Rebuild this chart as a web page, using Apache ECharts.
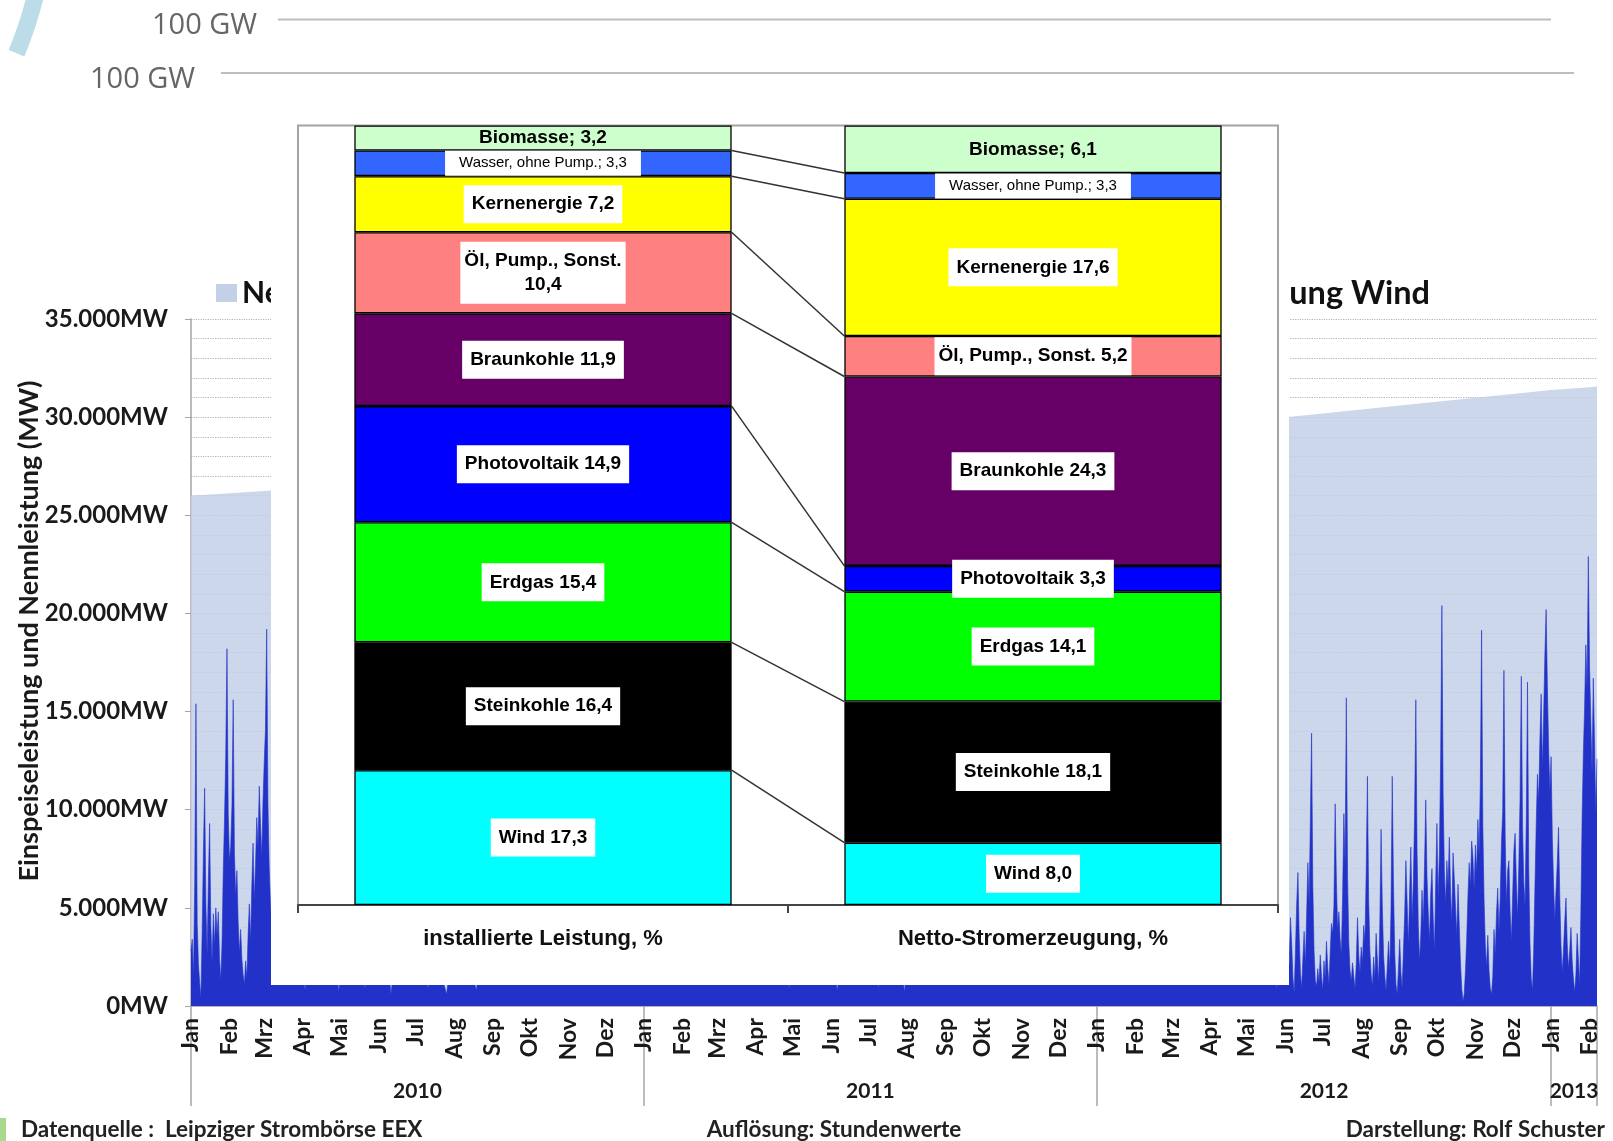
<!DOCTYPE html>
<html>
<head>
<meta charset="utf-8">
<script src="https://cdn.jsdelivr.net/npm/echarts@6/dist/echarts.min.js"></script>
<style>
html, body { margin: 0; padding: 0; background: #ffffff; }
#chart { width: 1613px; height: 1141px; }
</style>
</head>
<body>
<div id="chart"></div>
<script>
// ---- Wind feed-in vs. rated capacity, 2010 - Feb 2013 (day 0 = 1 Jan 2010) ----
const monthLabels = ['Jan', 'Feb', 'Mrz', 'Apr', 'Mai', 'Jun', 'Jul', 'Aug', 'Sep', 'Okt', 'Nov', 'Dez'];
const yearLabels = ['2010', '2011', '2012', '2013'];
const lastDay = 1133;

// rated wind capacity (MW) at the start of each month, Jan 2010 .. Feb 2013
const nennleistungMonthly = [
  26000, 26120, 26240, 26360, 26480, 26600, 26720, 26840, 26960, 27080, 27200, 27340,
  27470, 27580, 27700, 27810, 27920, 28040, 28150, 28270, 28390, 28510, 28640, 28770,
  28900, 29110, 29330, 29550, 29770, 29990, 30190, 30390, 30590, 30790, 30990, 31180,
  31380, 31520
];
const nennleistungEnd = 31560;

// wind feed-in (MW), daily, days 0..64
const windJanMar2010 = [
  2800, 3400, 1500, 6200, 15400, 4200, 2100, 1200, 450, 3800, 7900, 11100, 5200, 2600, 6400, 9300,
  4100, 2200, 4700, 3100, 5000, 3600, 4800, 2400, 1300, 3200, 6900, 9500, 12800, 18200, 9800, 7400,
  8100, 10200, 15600, 7800, 5600, 6900, 4300, 2700, 3900, 2400, 1600, 1100, 2300, 1400, 3600, 5200,
  3300, 6100, 8300, 5400, 7200, 9600, 8100, 11200, 9300, 7600, 10400, 12400, 14100, 19200, 10300, 7100,
  5300
];

// wind feed-in (MW), every third day, days 65..884
const windMar2010May2012 = [
  4200, 2600, 7800, 5100, 1800, 3300, 9200, 6400, 2100, 800, 3900, 5600, 2400, 6800, 10300, 4700, 1900, 3100, 700, 2800,
  4500, 1600, 2300, 5900, 3200, 900, 1700, 4100, 6300, 2500, 1200, 3400, 600, 2100, 4800, 7200, 3000, 1400, 2600, 1100,
  3700, 1800, 900, 2200, 5300, 2900, 1300, 600, 2400, 4100, 1700, 3300, 7400, 3800, 1500, 800, 2700, 5100, 2000, 1200,
  3500, 6200, 2600, 1100, 4400, 8700, 5300, 2000, 3900, 10600, 6800, 2900, 1300, 4600, 7900, 12100, 5400, 2300, 3800, 9400,
  13200, 6100, 2700, 5800, 11400, 16300, 8200, 3600, 7000, 4300, 1900, 6600, 9800, 4100, 2500, 5200, 14700, 7600, 3300, 8900,
  12600, 5700, 15800, 9100, 4200, 7300, 17400, 10200, 3800, 6500, 2900, 5100, 9600, 13800, 6200, 2400, 4700, 8300, 3600, 1500,
  5900, 11200, 6800, 2700, 4400, 9900, 3700, 1600, 6100, 8400, 3300, 1200, 4600, 7300, 2500, 5400, 10800, 4900, 2100, 900,
  3200, 5600, 2200, 1000, 4300, 7700, 3100, 1400, 2600, 6200, 3900, 1700, 800, 3500, 5800, 2300, 4700, 8100, 3600, 1500,
  2700, 5200, 1900, 900, 3800, 6900, 2800, 1300, 4100, 2200, 700, 3300, 5600, 2400, 6700, 3000, 1200, 2600, 4900, 2100,
  5500, 9300, 4200, 1800, 3700, 8500, 12300, 5900, 2600, 4800, 1400, 3900, 7600, 10900, 4400, 2200, 6300, 3100, 1300, 5700,
  2400, 1100, 3600, 2000, 4800, 9700, 6100, 13500, 8900, 15200, 10400, 6800, 18100, 12700, 7500, 16900, 9300, 5200, 11600, 14300,
  8400, 17600, 10900, 6300, 12200, 5500, 9800, 14600, 7100, 3900, 2200, 4600, 1300, 2900, 6700, 11300, 5800, 3400, 8600, 4100,
  2300, 6900, 10400, 4800, 2100, 7600, 3500, 1200, 5300, 9100, 4500, 2600, 6400, 12800, 5700, 3100, 8200, 4000, 1700, 3300,
  6000, 2800, 1100, 4600, 7300, 2900, 1500, 3800, 5400, 2000, 900, 2700, 4300, 1600
];

// wind feed-in (MW), daily, days 885..1133
const windJun2012Feb2013 = [
  2200, 4500, 3100, 1400, 660, 2800, 5200, 6800, 3600, 1700, 900, 2400, 3800, 2100, 4600, 7300,
  5200, 9400, 13900, 6100, 2800, 1300, 1000, 1900, 1200, 2600, 1500, 800, 2300, 1400, 3300, 2000,
  1100, 2700, 4200, 3700, 5100, 10300, 6400, 3900, 4800, 3400, 2600, 5600, 9800, 7200, 15700, 6600,
  3200, 1800, 1300, 2200, 1500, 900, 2100, 4500, 2600, 1700, 3000, 2200, 4100, 3300, 6800, 11700,
  5400, 2800, 1600, 1000, 2500, 1400, 3700, 2400, 1200, 4200, 9000, 5100, 2600, 1500, 800, 2000,
  3300, 1800, 4900, 11700, 6200, 2700, 1100, 600, 1900, 3400, 1700, 900, 2800, 4600, 7400, 5300,
  3100, 5800, 8100, 4400, 6300, 9700, 15600, 7900, 4100, 2300, 3600, 5900, 4200, 7100, 10500, 6600,
  4800, 3300, 5700, 7000, 4500, 2800, 6200, 9300, 5500, 7800, 12600, 20400, 10800, 6900, 5200, 7400,
  6100, 8600, 5800, 4300, 7800, 6500, 5000, 3600, 6200, 4100, 2200, 900, 250, 600, 1800, 3400,
  5600, 7300, 6100, 8400, 7600, 5900, 8200, 6800, 9500, 7700, 11400, 19150, 9200, 5400, 3100, 2000,
  3600, 1800, 900, 600, 1500, 3900, 2600, 4700, 6000, 3800, 5500, 8300, 9900, 17100, 8700, 5200,
  6900, 7400, 4800, 3300, 5600, 7900, 8800, 6400, 4500, 7200, 10600, 16800, 9100, 6300, 5100, 9400,
  16500, 7000, 3200, 1400, 800, 2900, 6100, 9200, 11800, 10400, 13600, 15900, 12100, 14800, 17900, 20200,
  16400, 13200, 10900, 12700, 8600, 6200, 4400, 5900, 7300, 9100, 5600, 3100, 1700, 2900, 4300, 5500,
  3200, 1900, 2800, 4000, 2300, 1400, 700, 1600, 3700, 2400, 1100, 4800, 9600, 12900, 15200, 18400,
  16100, 22900, 17300, 14600, 11800, 16700, 13400, 9800, 12600
];

// ---- Shares of installed capacity and net generation 2011 (%) ----
const barCategories = ['installierte Leistung, %', 'Netto-Stromerzeugung, %'];
const sources = ['Wind', 'Steinkohle', 'Erdgas', 'Photovoltaik', 'Braunkohle',
  'Öl, Pump., Sonst.', 'Kernenergie', 'Wasser, ohne Pump.', 'Biomasse'];
const sourceColors = ['#00ffff', '#000000', '#00ff00', '#0000ff', '#660066',
  '#ff8080', '#ffff00', '#3366ff', '#ccffcc'];
const installiert = [17.3, 16.4, 15.4, 14.9, 11.9, 10.4, 7.2, 3.3, 3.2];
const netto = [8.0, 18.1, 14.1, 3.3, 24.3, 5.2, 17.6, 3.3, 6.1];

// ---- calendar helpers for the time axis ----
const DAY_MS = 86400000;
const T0 = Date.UTC(2010, 0, 1);
const monthStarts = [];
const monthNameByDay = {};
const yearStarts = [];
for (let y = 2010; y <= 2013; y++) {
  for (let m = 0; m < 12; m++) {
    const d = Math.round((Date.UTC(y, m, 1) - T0) / DAY_MS);
    if (d > lastDay) continue;
    monthStarts.push(d);
    monthNameByDay[d] = monthLabels[m];
    if (m === 0) yearStarts.push(d);
  }
}
const yearBounds = yearStarts.concat([lastDay]);
const yearMids = [];
const yearNameByPos = {};
yearStarts.forEach((d, i) => {
  const mid = (d + yearBounds[i + 1]) / 2;
  yearMids.push(mid);
  yearNameByPos[mid] = yearLabels[i];
});

// ---- series tables ----
const nennData = monthStarts.map((d, i) => [d, nennleistungMonthly[i]]);
nennData.push([lastDay, nennleistungEnd]);

const windData = [];
windJanMar2010.forEach((v, i) => windData.push([i, v]));
windMar2010May2012.forEach((v, i) => windData.push([65 + 3 * i, v]));
windJun2012Feb2013.forEach((v, i) => windData.push([885 + i, v]));

const fmtPct = v => v.toFixed(1).replace('.', ',');

function barLabel(name, colIdx) {
  const base = {
    show: true, position: 'inside',
    fontFamily: 'Liberation Sans', fontWeight: 'bold', fontSize: 19, lineHeight: 20,
    color: '#000', backgroundColor: '#ffffff', padding: [9, 8]
  };
  if (name === 'Biomasse') {
    return Object.assign(base, { backgroundColor: 'transparent', padding: 0,
      formatter: p => name + '; ' + fmtPct(p.value) });
  }
  if (name === 'Wasser, ohne Pump.') {
    return Object.assign(base, { fontWeight: 'normal', fontSize: 15, lineHeight: 15, padding: [5, 14],
      formatter: p => name + '; ' + fmtPct(p.value) });
  }
  if (name === 'Öl, Pump., Sonst.') {
    if (colIdx === 0) {
      return Object.assign(base, { lineHeight: 24, padding: [7, 4],
        formatter: p => name + '\n' + fmtPct(p.value) });
    }
    return Object.assign(base, { padding: [9, 4], formatter: p => name + ' ' + fmtPct(p.value) });
  }
  return Object.assign(base, { formatter: p => name + ' ' + fmtPct(p.value) });
}

const barSeries = sources.map((name, i) => ({
  name: name,
  type: 'bar',
  stack: 'anteile',
  xAxisIndex: 2,
  yAxisIndex: 1,
  barWidth: '77%',
  z: 15,
  itemStyle: { color: sourceColors[i], borderColor: '#000', borderWidth: 1.3 },
  data: [
    { value: installiert[i], label: barLabel(name, 0) },
    { value: netto[i], label: barLabel(name, 1) }
  ]
}));

// series lines joining the same boundary in both columns
const boundaries = [];
let cumL = 0, cumR = 0;
for (let i = 0; i < sources.length - 1; i++) {
  cumL += installiert[i];
  cumR += netto[i];
  boundaries.push([0, cumL, cumR]);
}

const connectorSeries = {
  type: 'custom',
  xAxisIndex: 2,
  yAxisIndex: 1,
  z: 14,
  silent: true,
  encode: { x: 0, y: [1, 2] },
  data: boundaries,
  renderItem: function (params, api) {
    const half = api.size([1, 0])[0] * 0.77 / 2;
    const p0 = api.coord([0, api.value(1)]);
    const p1 = api.coord([1, api.value(2)]);
    return {
      type: 'line',
      shape: { x1: p0[0] + half, y1: p0[1], x2: p1[0] - half, y2: p1[1] },
      style: { stroke: '#333333', lineWidth: 1.5 }
    };
  }
};

const axisFont = { fontFamily: 'Lato', fontWeight: 'bold', color: '#1a1a1a' };
const legendText = { fontFamily: 'Lato', fontWeight: 'bold', fontSize: 30, color: '#111111' };

const option = {
  animation: false,
  backgroundColor: '#ffffff',
  legend: [
    { data: ['Nennleistung Wind'], left: 216, top: 278, padding: 0, icon: 'rect', itemWidth: 21, itemHeight: 18,
      itemGap: 8, textStyle: legendText, selectedMode: false },
    { data: ['Einspeiseleistung Wind'], right: 183, top: 277, padding: 0, icon: 'rect', itemWidth: 21, itemHeight: 18,
      itemGap: 8, textStyle: Object.assign({}, legendText, { fontSize: 32.5 }), selectedMode: false }
  ],
  grid: [
    { left: 191, right: 16, top: 319, bottom: 135, show: false },
    { left: 298, right: 335, top: 125.5, bottom: 236, show: true, z: 12,
      borderColor: '#a3a3a3', borderWidth: 2, backgroundColor: 'transparent' }
  ],
  xAxis: [
    {
      type: 'value', gridIndex: 0, min: 0, max: lastDay,
      axisLine: { show: true, lineStyle: { color: '#a6a6a6', width: 1.5 } },
      axisTick: { show: false },
      splitLine: { show: false },
      axisLabel: Object.assign({
        customValues: monthStarts, formatter: v => monthNameByDay[v],
        rotate: 90, margin: 12, fontSize: 23
      }, axisFont)
    },
    {
      type: 'value', gridIndex: 0, min: 0, max: lastDay, position: 'bottom',
      axisLine: { show: false },
      axisTick: { show: true, customValues: yearBounds, length: 100,
        lineStyle: { color: '#a6a6a6', width: 1.5 } },
      splitLine: { show: false },
      axisLabel: Object.assign({
        customValues: yearMids, formatter: v => yearNameByPos[v],
        margin: 75, fontSize: 21
      }, axisFont)
    },
    {
      type: 'category', gridIndex: 1, data: barCategories, z: 12,
      axisLine: { show: true, lineStyle: { color: '#444444', width: 2 } },
      axisTick: { show: true, length: 8, lineStyle: { color: '#444444', width: 2 } },
      axisLabel: { margin: 23, fontFamily: 'Liberation Sans', fontWeight: 'bold', fontSize: 22, color: '#111111' }
    }
  ],
  yAxis: [
    {
      type: 'value', gridIndex: 0, min: 0, max: 35000, interval: 5000,
      axisLine: { show: true, lineStyle: { color: '#a6a6a6', width: 1.5 } },
      axisTick: { show: true, length: 6, lineStyle: { color: '#a6a6a6' } },
      axisLabel: Object.assign({
        margin: 23, fontSize: 24,
        formatter: v => (v === 0 ? '0' : (v / 1000) + '.000') + 'MW'
      }, axisFont),
      splitLine: { show: true, lineStyle: { type: 'dotted', color: '#b3b3b3', width: 1.2 } },
      minorTick: { show: false, splitNumber: 5 },
      minorSplitLine: { show: true, lineStyle: { type: 'dotted', color: '#b3b3b3', width: 1.2 } }
    },
    { type: 'value', gridIndex: 1, min: 0, max: 100, show: false, z: 12 }
  ],
  graphic: [
    // decorative ring segment, top-left
    { type: 'arc', silent: true, z: 1,
      shape: { cx: -353, cy: -100, r: 400, startAngle: 0.2, endAngle: 0.393 },
      style: { stroke: '#bcdde7', lineWidth: 17, fill: 'none' } },
    // two reference lines at the top
    { type: 'text', x: 152, y: 26, z: 1,
      style: { text: '100 GW', fontFamily: 'Open Sans', fontSize: 29, fill: '#666666', verticalAlign: 'middle' } },
    { type: 'line', z: 1, shape: { x1: 278, y1: 19.5, x2: 1551, y2: 19.5 },
      style: { stroke: '#bdbdbd', lineWidth: 2 } },
    { type: 'text', x: 90, y: 80, z: 1,
      style: { text: '100 GW', fontFamily: 'Open Sans', fontSize: 29, fill: '#666666', verticalAlign: 'middle' } },
    { type: 'line', z: 1, shape: { x1: 221, y1: 73, x2: 1574, y2: 73 },
      style: { stroke: '#bdbdbd', lineWidth: 2 } },
    // y-axis title
    { type: 'text', x: 29, y: 631, rotation: Math.PI / 2, z: 1,
      style: { text: 'Einspeiseleistung und Nennleistung (MW)', fontFamily: 'Lato', fontWeight: 'bold',
        fontSize: 27, fill: '#1a1a1a', align: 'center', verticalAlign: 'middle' } },
    // white panel carrying the share chart
    { type: 'rect', silent: true, z: 10,
      shape: { x: 271, y: 108, width: 1018, height: 877 },
      style: { fill: '#ffffff' } },
    // footer
    { type: 'rect', silent: true, z: 1, shape: { x: 0, y: 1118, width: 6, height: 23 },
      style: { fill: '#a9d98c' } },
    { type: 'text', x: 21, y: 1130, z: 1,
      style: { text: 'Datenquelle :  Leipziger Strombörse EEX', fontFamily: 'Lato', fontWeight: 'bold',
        fontSize: 22.5, fill: '#222222', verticalAlign: 'middle' } },
    { type: 'text', x: 834, y: 1130, z: 1,
      style: { text: 'Auflösung: Stundenwerte', fontFamily: 'Lato', fontWeight: 'bold',
        fontSize: 22.5, fill: '#222222', align: 'center', verticalAlign: 'middle' } },
    { type: 'text', x: 1605, y: 1130, z: 1,
      style: { text: 'Darstellung: Rolf Schuster', fontFamily: 'Lato', fontWeight: 'bold',
        fontSize: 22.5, fill: '#222222', align: 'right', verticalAlign: 'middle' } }
  ],
  series: [
    {
      name: 'Nennleistung Wind', type: 'line', xAxisIndex: 0, yAxisIndex: 0,
      data: nennData, symbol: 'none', z: 2,
      lineStyle: { width: 0 },
      itemStyle: { color: '#c3d0e7' },
      areaStyle: { color: '#c3d0e7', opacity: 0.85 }
    },
    {
      name: 'Einspeiseleistung Wind', type: 'line', xAxisIndex: 0, yAxisIndex: 0,
      data: windData, symbol: 'none', z: 3, sampling: null,
      lineStyle: { width: 0.6, color: '#2232c8' },
      itemStyle: { color: '#2232c8' },
      areaStyle: { color: '#2232c8', opacity: 1 }
    }
  ].concat(barSeries, [connectorSeries])
};

const chart = echarts.init(document.getElementById('chart'), null, { renderer: 'canvas' });
chart.setOption(option);
</script>
</body>
</html>
